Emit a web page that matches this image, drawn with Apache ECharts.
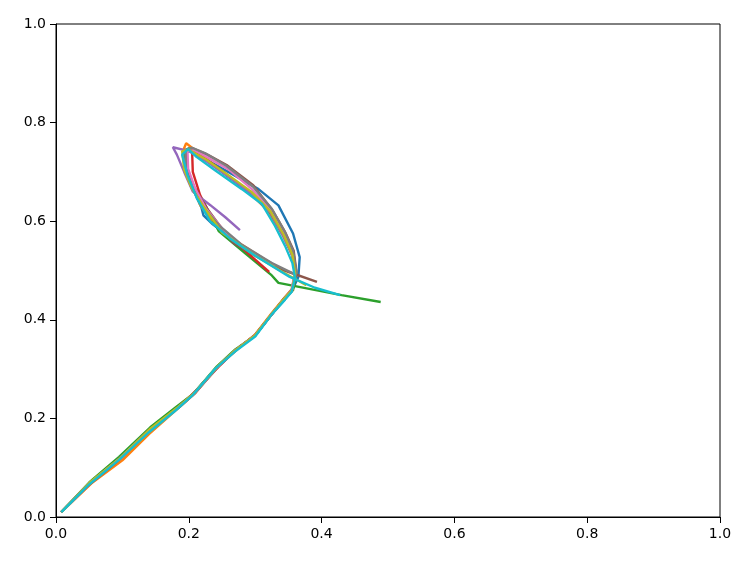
<!DOCTYPE html>
<html>
<head>
<meta charset="utf-8">
<script src="https://cdn.jsdelivr.net/npm/echarts@6/dist/echarts.min.js"></script>
<style>html,body{margin:0;padding:0;background:#fff;}#c{width:750px;height:563px;}</style>
</head>
<body>
<div id="c"></div>
<script>
var xTicks = [0, 0.2, 0.4, 0.6, 0.8, 1.0];
var yTicks = [0, 0.2, 0.4, 0.6, 0.8, 1.0];
var colors = ['#1f77b4','#ff7f0e','#2ca02c','#d62728','#9467bd','#8c564b','#e377c2','#7f7f7f','#bcbd22','#17becf'];

var s0 = [[0.008,0.010],[0.05,0.068],[0.095,0.118],[0.14,0.175],[0.18,0.218],[0.205,0.248],[0.24,0.300],[0.27,0.338],[0.30,0.368],[0.325,0.412],[0.345,0.442],[0.355,0.458],[0.365,0.487],[0.367,0.527],[0.357,0.575],[0.335,0.632],[0.305,0.665],[0.27,0.692],[0.23,0.722],[0.205,0.745],[0.195,0.738],[0.198,0.700],[0.208,0.660],[0.219,0.628],[0.222,0.612],[0.235,0.595],[0.27,0.560],[0.31,0.525],[0.345,0.500]];
var s1 = [[0.008,0.010],[0.055,0.070],[0.10,0.115],[0.14,0.168],[0.185,0.222],[0.21,0.252],[0.245,0.308],[0.275,0.342],[0.30,0.370],[0.325,0.414],[0.343,0.443],[0.355,0.462],[0.36,0.495],[0.355,0.535],[0.34,0.575],[0.32,0.620],[0.29,0.660],[0.255,0.695],[0.225,0.728],[0.196,0.758],[0.192,0.745],[0.198,0.705],[0.207,0.668],[0.217,0.633],[0.235,0.600],[0.265,0.565],[0.30,0.535],[0.335,0.505]];
var s2 = [[0.008,0.010],[0.05,0.070],[0.095,0.122],[0.142,0.182],[0.18,0.222],[0.207,0.250],[0.242,0.305],[0.27,0.340],[0.30,0.368],[0.327,0.415],[0.345,0.445],[0.357,0.460],[0.362,0.495],[0.358,0.527],[0.345,0.565],[0.325,0.615],[0.295,0.655],[0.26,0.690],[0.228,0.722],[0.20,0.748],[0.192,0.740],[0.196,0.705],[0.205,0.675],[0.222,0.640],[0.245,0.580],[0.285,0.535],[0.325,0.490],[0.335,0.475],[0.43,0.450],[0.489,0.436]];
var s3 = [[0.008,0.010],[0.052,0.068],[0.097,0.118],[0.14,0.175],[0.182,0.220],[0.21,0.255],[0.245,0.305],[0.272,0.340],[0.30,0.370],[0.326,0.413],[0.344,0.443],[0.356,0.460],[0.36,0.492],[0.356,0.530],[0.343,0.570],[0.322,0.620],[0.293,0.658],[0.26,0.692],[0.23,0.722],[0.205,0.742],[0.202,0.738],[0.206,0.700],[0.217,0.653],[0.232,0.613],[0.26,0.570],[0.30,0.522],[0.321,0.497]];
var s4 = [[0.008,0.010],[0.05,0.068],[0.096,0.118],[0.14,0.174],[0.182,0.220],[0.206,0.248],[0.242,0.303],[0.27,0.338],[0.30,0.368],[0.325,0.412],[0.344,0.442],[0.355,0.460],[0.36,0.493],[0.356,0.530],[0.343,0.568],[0.323,0.618],[0.294,0.656],[0.26,0.690],[0.228,0.720],[0.20,0.742],[0.176,0.750],[0.182,0.735],[0.193,0.700],[0.206,0.660],[0.232,0.633],[0.255,0.608],[0.277,0.582]];
var s5 = [[0.008,0.010],[0.052,0.070],[0.097,0.120],[0.14,0.176],[0.185,0.222],[0.21,0.252],[0.244,0.305],[0.272,0.340],[0.30,0.368],[0.326,0.413],[0.344,0.444],[0.356,0.462],[0.362,0.498],[0.358,0.540],[0.345,0.578],[0.327,0.620],[0.297,0.673],[0.257,0.714],[0.228,0.735],[0.206,0.748],[0.196,0.745],[0.197,0.708],[0.207,0.670],[0.228,0.625],[0.25,0.585],[0.267,0.556],[0.30,0.530],[0.342,0.501],[0.393,0.477]];
var s6 = [[0.008,0.010],[0.051,0.069],[0.096,0.119],[0.14,0.175],[0.183,0.221],[0.208,0.250],[0.243,0.304],[0.271,0.339],[0.30,0.369],[0.326,0.413],[0.344,0.443],[0.355,0.461],[0.36,0.496],[0.356,0.535],[0.343,0.575],[0.322,0.625],[0.295,0.665],[0.26,0.705],[0.23,0.728],[0.208,0.744],[0.198,0.742],[0.199,0.706],[0.21,0.665],[0.226,0.625],[0.25,0.585],[0.285,0.545],[0.33,0.510]];
var s7 = [[0.008,0.010],[0.05,0.068],[0.096,0.118],[0.14,0.176],[0.184,0.222],[0.209,0.252],[0.244,0.306],[0.272,0.340],[0.30,0.369],[0.326,0.413],[0.345,0.444],[0.356,0.462],[0.362,0.497],[0.357,0.540],[0.344,0.580],[0.325,0.625],[0.297,0.670],[0.257,0.712],[0.226,0.737],[0.205,0.749],[0.195,0.745],[0.195,0.708],[0.203,0.672],[0.22,0.632],[0.245,0.592],[0.28,0.552],[0.325,0.515],[0.36,0.492]];
var s8 = [[0.008,0.010],[0.051,0.070],[0.097,0.120],[0.141,0.178],[0.183,0.222],[0.207,0.250],[0.243,0.305],[0.271,0.339],[0.30,0.369],[0.326,0.414],[0.344,0.443],[0.356,0.461],[0.36,0.495],[0.356,0.532],[0.343,0.572],[0.323,0.620],[0.294,0.660],[0.258,0.695],[0.226,0.725],[0.20,0.745],[0.19,0.742],[0.193,0.705],[0.204,0.668],[0.222,0.630],[0.25,0.577],[0.30,0.530],[0.34,0.498],[0.377,0.470]];
var s9 = [[0.008,0.010],[0.05,0.066],[0.095,0.116],[0.14,0.172],[0.18,0.216],[0.205,0.246],[0.24,0.301],[0.27,0.336],[0.30,0.366],[0.325,0.411],[0.345,0.441],[0.355,0.457],[0.36,0.485],[0.356,0.515],[0.345,0.550],[0.33,0.590],[0.31,0.635],[0.28,0.665],[0.24,0.703],[0.212,0.730],[0.199,0.746],[0.19,0.735],[0.198,0.694],[0.212,0.647],[0.232,0.600],[0.262,0.565],[0.30,0.530],[0.352,0.487],[0.39,0.465],[0.428,0.450]];

var seriesData = [s0, s1, s2, s3, s4, s5, s6, s7, s8, s9];

var chart = echarts.init(document.getElementById('c'), null, {renderer: 'canvas'});
var labelStyle = {color: '#000', fontSize: 14, fontFamily: 'DejaVu Sans', formatter: function (v) { return v.toFixed(1); }};
chart.setOption({
  animation: false,
  backgroundColor: '#fff',
  color: colors,
  grid: {left: 56, right: 30, top: 24, bottom: 46, show: true, borderColor: '#000', borderWidth: 1, backgroundColor: 'transparent'},
  xAxis: {type: 'value', min: xTicks[0], max: xTicks[xTicks.length - 1], interval: 0.2,
    axisLine: {show: true, lineStyle: {color: '#000', width: 1}},
    axisTick: {show: true, inside: false, length: 6, lineStyle: {color: '#000'}},
    axisLabel: Object.assign({margin: 10}, labelStyle),
    splitLine: {show: false}},
  yAxis: {type: 'value', min: yTicks[0], max: yTicks[yTicks.length - 1], interval: 0.2,
    axisLine: {show: true, lineStyle: {color: '#000', width: 1}},
    axisTick: {show: true, inside: false, length: 6, lineStyle: {color: '#000'}},
    axisLabel: Object.assign({margin: 10}, labelStyle),
    splitLine: {show: false}},
  series: seriesData.map(function (d, i) {
    return {type: 'line', data: d, showSymbol: false, symbol: 'none', smooth: false,
      lineStyle: {width: 2.4, color: colors[i]}, z: 2 + i};
  })
});
</script>
</body>
</html>
